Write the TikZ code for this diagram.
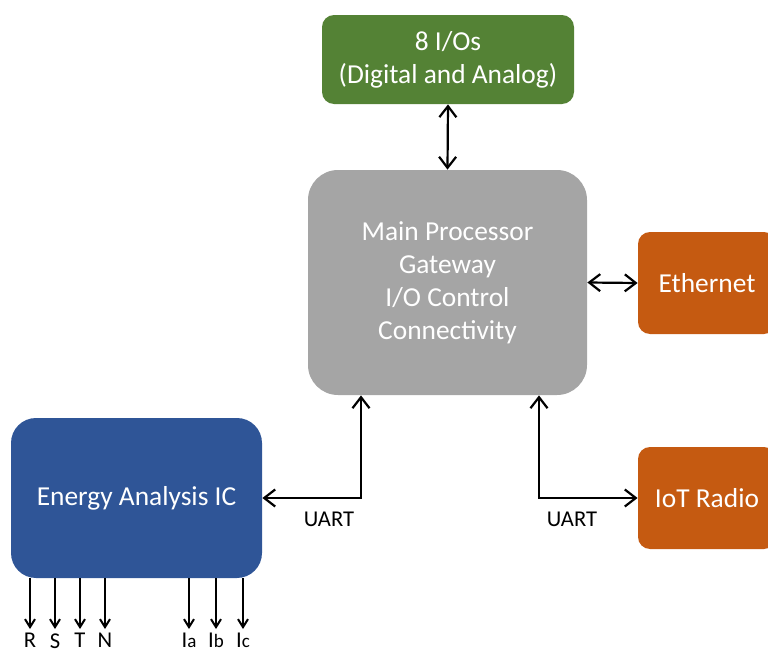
\documentclass[tikz,border=0pt]{standalone}
\usepackage{fontspec}
\setmainfont{Carlito}
\usetikzlibrary{arrows.meta}
\definecolor{cgreen}{HTML}{548235}
\definecolor{cgray}{HTML}{A5A5A5}
\definecolor{corange}{HTML}{C55A11}
\definecolor{cblue}{HTML}{2F5597}
\tikzset{
  blk/.style={draw=none, text=white, align=center, font=\fontsize{13.7}{16.5}\selectfont, inner sep=0pt},
  arr/.style={line width=1.1pt, {Straight Barb[length=5.5pt,width=8.5pt]}-{Straight Barb[length=5.5pt,width=8.5pt]}},
  arro/.style={line width=1pt, -{Straight Barb[length=4pt,width=5pt]}, shorten >=2pt},
  lbl/.style={font=\fontsize{11.3}{13}\selectfont, text=black, inner sep=0pt},
}
\begin{document}
\begin{tikzpicture}[x=0.5pt,y=-0.5pt]
\useasboundingbox (0,0) rectangle (768,653);
\clip (0,0) rectangle (768,653);
\node[blk, fill=cgreen, rounded corners=6pt, minimum width=126pt, minimum height=44.5pt] (io) at (448,59.5) {8 I/Os\\(Digital and Analog)};
\node[blk, fill=cgray, rounded corners=15pt, minimum width=139.5pt, minimum height=112.5pt] (main) at (447.5,282.5) {Main Processor\\Gateway\\I/O Control\\Connectivity};
\node[blk, fill=corange, rounded corners=6pt, minimum width=69pt, minimum height=51pt] (eth) at (707,283) {Ethernet};
\node[blk, fill=corange, rounded corners=6pt, minimum width=69pt, minimum height=51pt] (iot) at (707,498) {IoT Radio};
\node[blk, fill=cblue, rounded corners=12.5pt, minimum width=125.5pt, minimum height=80pt] (eic) at (136.5,498) {Energy Analysis IC};

\coordinate (uL) at (361,0);
\coordinate (uR) at (539,0);
\draw[arr] (io.south) -- (main.north);
\draw[arr] (main.east) -- (eth.west);
\draw[arr] (eic.east) -| (main.south -| uL);
\draw[arr] (iot.west) -| (main.south -| uR);
\node[lbl] (u1) at (329,519) {UART};
\node[lbl] (u2) at (572,519) {UART};

\foreach \n/\x/\t in {r/30/R, s/55/S, t/80/T, n/105/N, a/189/I{\fontsize{9.5}{10}\selectfont a}, b/216/I{\fontsize{9.5}{10}\selectfont b}, c/243/I{\fontsize{9.5}{10}\selectfont c}}{
  \node[lbl, anchor=north] (p\n) at (\x,633) {\t};
  \draw[arro] (eic.south -| p\n) -- (p\n.north);
}
\end{tikzpicture}
\end{document}
